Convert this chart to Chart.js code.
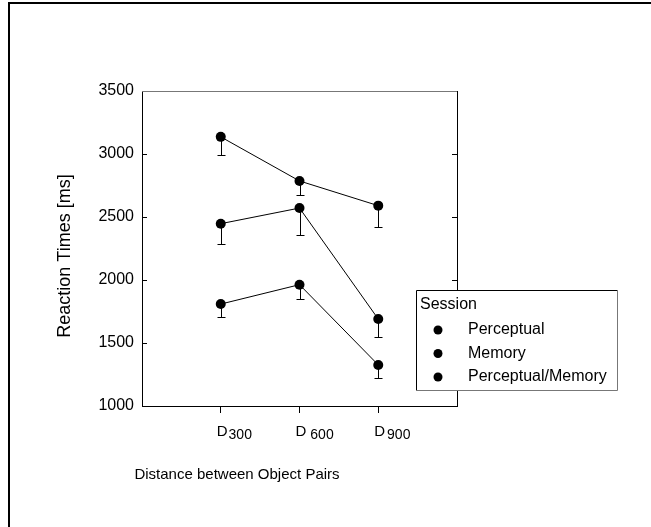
<!DOCTYPE html>
<html>
<head>
<meta charset="utf-8">
<script src="https://cdn.jsdelivr.net/npm/chart.js@4/dist/chart.umd.min.js"></script>
<style>
  html, body { margin: 0; background: #fff; overflow: hidden; }
  #chart { display: block; }
</style>
</head>
<body>
<canvas id="chart" width="651" height="527"></canvas>
<script>
// categories (D300, D600, D900) sit at 1, 2, 3 on an axis running 0..4
var xPositions = [1, 2, 3];
var xTickMain = ['D', 'D', 'D'];
var xTickSub = ['300', '600', '900'];
var xTickGap = [1, 4, 2];

var seriesNames = ['Perceptual', 'Memory', 'Perceptual/Memory'];
var perceptual = [1809, 1963, 1326];
var perceptualErr = [100, 115, 100];
var memory = [2447, 2571, 1690];
var memoryErr = [160, 210, 140];
var perceptualMemory = [3136, 2786, 2590];
var perceptualMemoryErr = [145, 115, 170];

var yMin = 1000, yMax = 3500, yStep = 500;
var yTitle = 'Reaction Times [ms]';
var xTitle = 'Distance between Object Pairs';
var legendTitle = 'Session';

var FONT = '"Liberation Sans", Arial, sans-serif';

function toPoints(vals) {
    return vals.map(function (v, i) { return {x: xPositions[i], y: v}; });
}

var allValues = [perceptual, memory, perceptualMemory];
var allErrs = [perceptualErr, memoryErr, perceptualMemoryErr];

var datasets = allValues.map(function (vals, i) {
    return {
        label: seriesNames[i],
        data: toPoints(vals),
        borderColor: '#000',
        borderWidth: 1,
        backgroundColor: '#000',
        pointBackgroundColor: '#000',
        pointBorderColor: '#000',
        pointRadius: 5,
        pointBorderWidth: 0,
        fill: false,
        tension: 0
    };
});

// error bars (downward only), drawn under the markers
var errorBars = {
    id: 'errorBars',
    beforeDatasetsDraw: function (chart) {
        var ctx = chart.ctx, xs = chart.scales.x, ys = chart.scales.y;
        ctx.save();
        ctx.strokeStyle = '#000';
        ctx.lineWidth = 1;
        allValues.forEach(function (vals, i) {
            vals.forEach(function (v, j) {
                var px = Math.round(xs.getPixelForValue(xPositions[j])) + 0.5;
                var y0 = ys.getPixelForValue(v);
                var y1 = Math.round(ys.getPixelForValue(v - allErrs[i][j])) + 0.5;
                ctx.beginPath();
                ctx.moveTo(px, y0);
                ctx.lineTo(px, y1);
                ctx.moveTo(px - 4, y1);
                ctx.lineTo(px + 4, y1);
                ctx.stroke();
            });
        });
        ctx.restore();
    }
};

// outer frame (top + left only), box, inward ticks, labels, titles, legend
var decorations = {
    id: 'decorations',
    afterDraw: function (chart) {
        var ctx = chart.ctx, a = chart.chartArea;
        var xs = chart.scales.x, ys = chart.scales.y;
        ctx.save();

        ctx.fillStyle = '#000';
        ctx.fillRect(8, 2, 643, 2);
        ctx.fillRect(8, 2, 2, 525);

        ctx.lineWidth = 1;
        // plot box: top grey, right black
        ctx.strokeStyle = '#777';
        ctx.beginPath();
        ctx.moveTo(a.left, Math.round(a.top) + 0.5);
        ctx.lineTo(a.right, Math.round(a.top) + 0.5);
        ctx.stroke();
        ctx.strokeStyle = '#000';
        ctx.beginPath();
        ctx.moveTo(Math.round(a.right) + 0.5, a.top);
        ctx.lineTo(Math.round(a.right) + 0.5, a.bottom);
        ctx.stroke();

        // inward ticks on both y sides
        for (var v = yMin + yStep; v < yMax; v += yStep) {
            var py = Math.round(ys.getPixelForValue(v)) + 0.5;
            ctx.beginPath();
            ctx.moveTo(a.left, py);
            ctx.lineTo(a.left + 5, py);
            ctx.moveTo(a.right, py);
            ctx.lineTo(a.right - 5, py);
            ctx.stroke();
        }

        // x tick labels with lowered numbers
        ctx.fillStyle = '#000';
        ctx.textBaseline = 'alphabetic';
        ctx.textAlign = 'left';
        xPositions.forEach(function (p, i) {
            var px = xs.getPixelForValue(p) - 4;
            ctx.font = '15px ' + FONT;
            ctx.fillText(xTickMain[i], px, 436);
            var w = ctx.measureText(xTickMain[i]).width;
            ctx.font = '14px ' + FONT;
            ctx.fillText(xTickSub[i], px + w + xTickGap[i], 439);
        });

        // axis titles
        ctx.font = '15px ' + FONT;
        ctx.textAlign = 'center';
        ctx.textBaseline = 'middle';
        ctx.fillText(xTitle, 237, 475);
        ctx.save();
        ctx.translate(65, 256);
        ctx.rotate(-Math.PI / 2);
        ctx.font = '18px ' + FONT;
        ctx.fillText(yTitle, 0, 0);
        ctx.restore();

        // legend box
        var lx = 416, ly = 290, lw = 201, lh = 100;
        ctx.fillStyle = '#fff';
        ctx.fillRect(lx, ly, lw, lh);
        ctx.strokeStyle = '#000';
        ctx.beginPath();
        ctx.moveTo(lx + 0.5, ly + lh);
        ctx.lineTo(lx + 0.5, ly + 0.5);
        ctx.lineTo(lx + lw, ly + 0.5);
        ctx.stroke();
        ctx.strokeStyle = '#777';
        ctx.beginPath();
        ctx.moveTo(lx + lw + 0.5, ly);
        ctx.lineTo(lx + lw + 0.5, ly + lh + 0.5);
        ctx.lineTo(lx, ly + lh + 0.5);
        ctx.stroke();

        ctx.fillStyle = '#000';
        ctx.textAlign = 'left';
        ctx.textBaseline = 'middle';
        ctx.font = '16px ' + FONT;
        ctx.fillText(legendTitle, 420, 305);
        seriesNames.forEach(function (name, i) {
            var cy = 330 + i * 23.5;
            ctx.beginPath();
            ctx.arc(438, cy, 4.5, 0, Math.PI * 2);
            ctx.fill();
            ctx.fillText(name, 468, cy);
        });
        ctx.restore();
    }
};

var ctx = document.getElementById('chart').getContext('2d');
var chart = new Chart(ctx, {
    type: 'line',
    data: { datasets: datasets },
    options: {
        responsive: false,
        animation: false,
        layout: { padding: { left: 0, top: 91, right: 194, bottom: 0 } },
        plugins: {
            legend: { display: false },
            tooltip: { enabled: false }
        },
        scales: {
            x: {
                type: 'linear',
                min: 0,
                max: 4,
                afterBuildTicks: function (scale) {
                    scale.ticks = xPositions.map(function (p) { return {value: p}; });
                },
                afterFit: function (scale) { scale.height = 121; },
                ticks: { display: false },
                grid: {
                    drawOnChartArea: false,
                    drawTicks: true,
                    tickLength: 7,
                    color: '#000',
                    lineWidth: 1
                },
                border: { display: true, color: '#000', width: 1 }
            },
            y: {
                min: yMin,
                max: yMax,
                afterFit: function (scale) { scale.width = 142; },
                ticks: {
                    stepSize: yStep,
                    color: '#000',
                    padding: 8,
                    font: { family: FONT, size: 16 },
                    callback: function (value) { return String(value); }
                },
                grid: { drawOnChartArea: false, drawTicks: false },
                border: { display: true, color: '#000', width: 1 }
            }
        }
    },
    plugins: [errorBars, decorations]
});
</script>
</body>
</html>
